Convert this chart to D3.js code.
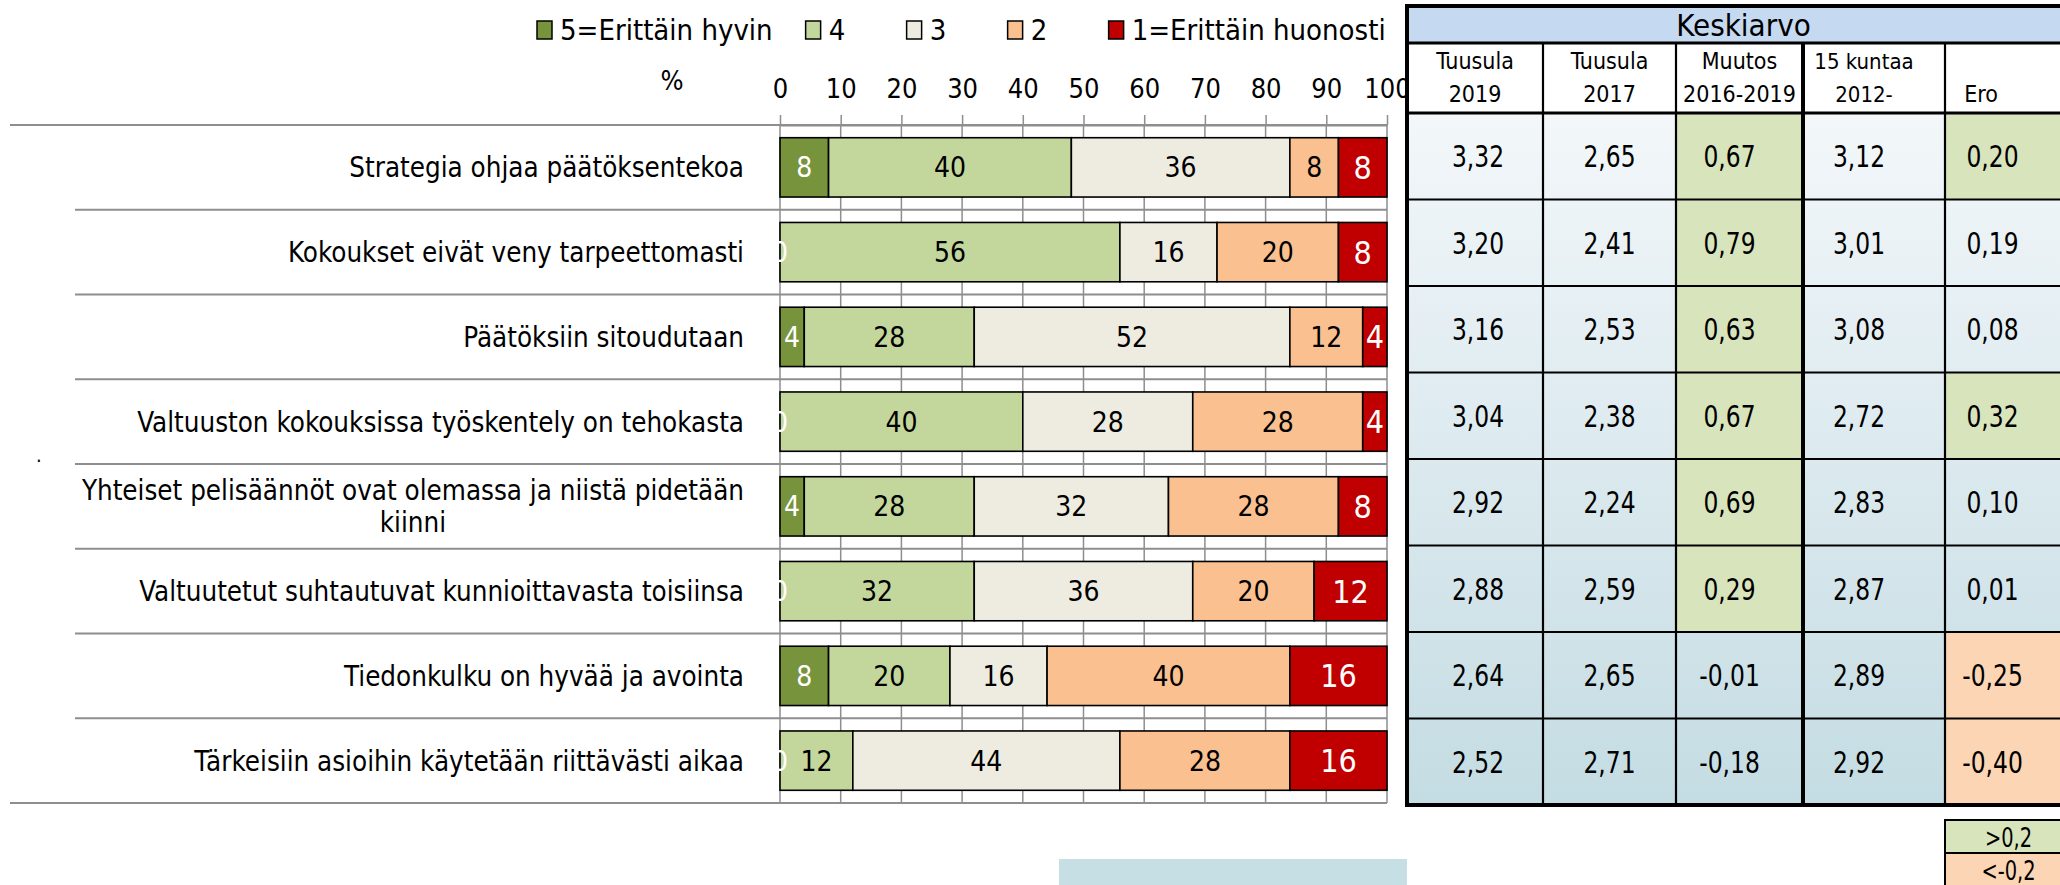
<!DOCTYPE html>
<html>
<head>
<meta charset="utf-8">
<script src="https://cdn.jsdelivr.net/npm/d3@7"></script>
<style>
	body { margin: 0; background: #fff; }
	svg text { font-family: "Liberation Sans Narrow", "DejaVu Sans Condensed", "Roboto Condensed", Roboto, sans-serif; font-stretch: condensed; }
</style>
</head>
<body>
<svg id="chart" width="2060" height="885"></svg>
<script>
// survey statements (rows, top to bottom)
var categories = [
	'Strategia ohjaa päätöksentekoa',
	'Kokoukset eivät veny tarpeettomasti',
	'Päätöksiin sitoudutaan',
	'Valtuuston kokouksissa työskentely on tehokasta',
	'Yhteiset pelisäännöt ovat olemassa ja niistä pidetään kiinni',
	'Valtuutetut suhtautuvat kunnioittavasta toisiinsa',
	'Tiedonkulku on hyvää ja avointa',
	'Tärkeisiin asioihin käytetään riittävästi aikaa'
];

// answer shares, %
var v5 = [8, 0, 4, 0, 4, 0, 8, 0];
var v4 = [40, 56, 28, 40, 28, 32, 20, 12];
var v3 = [36, 16, 52, 28, 32, 36, 16, 44];
var v2 = [8, 20, 12, 28, 28, 20, 40, 28];
var v1 = [8, 8, 4, 4, 8, 12, 16, 16];

var seriesKeys = ['5', '4', '3', '2', '1'];
var legendLabels = ['5=Erittäin hyvin', '4', '3', '2', '1=Erittäin huonosti'];
var seriesColors = ['#77933C', '#C3D69B', '#EEECE1', '#FAC090', '#C00000'];
var xTicks = [0, 10, 20, 30, 40, 50, 60, 70, 80, 90, 100];

// mean table
var tableTitle = 'Keskiarvo';
var colHeads = [['Tuusula', '2019'], ['Tuusula', '2017'], ['Muutos', '2016-2019'], ['15 kuntaa', '2012-'], ['', 'Ero']];
var tuusula2019 = [3.32, 3.20, 3.16, 3.04, 2.92, 2.88, 2.64, 2.52];
var tuusula2017 = [2.65, 2.41, 2.53, 2.38, 2.24, 2.59, 2.65, 2.71];
var muutos = [0.67, 0.79, 0.63, 0.67, 0.69, 0.29, -0.01, -0.18];
var kunnat15 = [3.12, 3.01, 3.08, 2.72, 2.83, 2.87, 2.89, 2.92];
var ero = [0.20, 0.19, 0.08, 0.32, 0.10, 0.01, -0.25, -0.40];
var diffLegend = ['>0,2', '<-0,2'];

var svg = d3.select('#chart');
svg.append('rect').attr('width', 2060).attr('height', 885).attr('fill', '#fff');

var gridCol = '#8E8E8E';
var fmt = d3.formatLocale({decimal: ',', thousands: ' ', grouping: [3], currency: ['', ''], minus: '-'}).format('.2f');

// ---------- bar chart ----------
var rows = categories.map((c, i) => ({cat: c, '5': v5[i], '4': v4[i], '3': v3[i], '2': v2[i], '1': v1[i]}));
var stacked = d3.stack().keys(seriesKeys)(rows);

var x = d3.scaleLinear().domain([0, 100]).range([780, 1387]);
var y = d3.scaleBand().domain(categories).range([125, 803]).paddingInner(0.3).paddingOuter(0.15);
var step = y.step();
var color = d3.scaleOrdinal().domain(seriesKeys).range(seriesColors);

// grid
svg.append('g').selectAll('line').data(xTicks).enter().append('line')
	.attr('x1', d => x(d)).attr('x2', d => x(d))
	.attr('y1', 125).attr('y2', 803)
	.attr('stroke', gridCol).attr('stroke-width', 1.5);

var bounds = d3.range(categories.length + 1);
svg.append('g').selectAll('line').data(bounds).enter().append('line')
	.attr('x1', d => (d == 0 || d == categories.length) ? 10 : 75)
	.attr('x2', x(100))
	.attr('y1', d => 125 + d * step).attr('y2', d => 125 + d * step)
	.attr('stroke', gridCol).attr('stroke-width', 2);

// axis on top
var axis = svg.append('g').attr('transform', 'translate(0,125)')
	.call(d3.axisTop(x).tickValues(xTicks).tickSize(10).tickSizeOuter(0).tickPadding(17));
axis.select('.domain').attr('stroke', gridCol).attr('stroke-width', 2);
axis.selectAll('.tick line').attr('stroke', gridCol).attr('stroke-width', 1.5);
axis.selectAll('.tick text').attr('font-size', 27).attr('fill', '#000')
	.style('font-family', '"Liberation Sans Narrow", "DejaVu Sans Condensed", sans-serif');

svg.append('text').attr('x', 672).attr('y', 90).attr('text-anchor', 'middle')
	.attr('font-size', 27).text('%');

// bars
var layers = svg.append('g').selectAll('g').data(stacked).enter().append('g')
	.attr('fill', d => color(d.key));

layers.selectAll('rect').data(d => d).enter().append('rect')
	.attr('x', d => x(d[0]))
	.attr('width', d => x(d[1]) - x(d[0]))
	.attr('y', d => y(d.data.cat))
	.attr('height', y.bandwidth())
	.attr('stroke', '#000').attr('stroke-width', 1.6);

// segment labels drawn after every bar so zero-width labels peek out
var labelData = [];
stacked.forEach(s => s.forEach(p => labelData.push({p: p, key: s.key})));
svg.append('g').selectAll('text').data(labelData).enter().append('text')
	.attr('x', d => (x(d.p[0]) + x(d.p[1])) / 2)
	.attr('y', d => y(d.p.data.cat) + y.bandwidth() / 2)
	.attr('dy', '0.36em')
	.attr('text-anchor', 'middle')
	.attr('font-size', d => d.key == '1' ? 32 : 28)
	.attr('fill', d => (d.key == '5' || d.key == '1') ? '#fff' : '#000')
	.text(d => d.p[1] - d.p[0]);

// category labels (wrapped, block centred, right edge at labelRight)
var labelRight = 744, labelMax = 690, labelSize = 27.5;
categories.forEach(function(c) {
	var cy = y(c) + y.bandwidth() / 2;
	var t = svg.append('text').attr('font-size', labelSize).attr('text-anchor', 'end')
		.attr('x', labelRight).attr('y', cy).attr('dy', '0.36em').text(c);
	if (t.node().getComputedTextLength() > labelMax) {
		var words = c.split(' '), line1 = [], rest = [];
		words.forEach(function(w) {
			if (rest.length == 0) {
				t.text(line1.concat([w]).join(' '));
				if (t.node().getComputedTextLength() > labelMax) rest.push(w); else line1.push(w);
			} else rest.push(w);
		});
		t.text(line1.join(' '));
		var w1 = t.node().getComputedTextLength();
		t.attr('text-anchor', 'middle').attr('x', labelRight - w1 / 2).attr('y', cy - 16);
		svg.append('text').attr('font-size', labelSize).attr('text-anchor', 'middle')
			.attr('x', labelRight - w1 / 2).attr('y', cy + 16).attr('dy', '0.36em').text(rest.join(' '));
	}
});
svg.append('text').attr('x', 36).attr('y', 462).attr('font-size', 20).text('.');

// legend
var legend = svg.append('g').attr('transform', 'translate(537,30)');
var lx = 0;
legendLabels.forEach(function(l, i) {
	var g = legend.append('g').attr('transform', 'translate(' + lx + ',0)');
	g.append('rect').attr('x', 0).attr('y', -9).attr('width', 15).attr('height', 18)
		.attr('fill', seriesColors[i]).attr('stroke', '#000').attr('stroke-width', 1.5);
	var t = g.append('text').attr('x', 23).attr('y', 0).attr('dy', '0.36em')
		.attr('font-size', 29).text(l);
	lx += Math.max(23 + t.node().getComputedTextLength() + 33, 101);
});

// ---------- mean table ----------
var colEdges = [1407, 1543, 1676, 1803, 1945, 2080];
var colShift = [3, 0, -10, -15, -20];
var tTop = 6, tMid = 43, tHead = 113, tBottom = 805;
var ty = d3.scaleBand().domain(categories).range([tHead, tBottom]);
var tableCols = [tuusula2019, tuusula2017, muutos, kunnat15, ero];

var defs = svg.append('defs');
var grad = defs.append('linearGradient').attr('id', 'tblGrad')
	.attr('gradientUnits', 'userSpaceOnUse')
	.attr('x1', 0).attr('x2', 0).attr('y1', tHead).attr('y2', tBottom);
grad.append('stop').attr('offset', 0).attr('stop-color', '#F3F7FA');
grad.append('stop').attr('offset', 1).attr('stop-color', '#C4DCE3');

function cellFill(ci, v) {
	if (ci == 2 || ci == 4) {
		if (v >= 0.2) return '#D8E4BC';
		if (v <= -0.2) return '#FCD5B4';
	}
	return 'url(#tblGrad)';
}

svg.append('rect').attr('x', colEdges[0]).attr('y', tTop)
	.attr('width', colEdges[5] - colEdges[0]).attr('height', tMid - tTop)
	.attr('fill', '#C5D9F1');
svg.append('rect').attr('x', colEdges[0]).attr('y', tMid)
	.attr('width', colEdges[5] - colEdges[0]).attr('height', tHead - tMid)
	.attr('fill', '#fff');

var tcells = svg.append('g');
tableCols.forEach(function(vals, ci) {
	var x0 = colEdges[ci], x1 = colEdges[ci + 1];
	var cx = (x0 + x1) / 2 + colShift[ci];
	tcells.selectAll(null).data(vals).enter().append('rect')
		.attr('x', x0).attr('width', x1 - x0)
		.attr('y', (d, i) => ty(categories[i])).attr('height', ty.bandwidth())
		.attr('fill', d => cellFill(ci, d));
	tcells.selectAll(null).data(vals).enter().append('text')
		.attr('transform', (d, i) => 'translate(' + cx + ',' + (ty(categories[i]) + ty.bandwidth() / 2) + ') scale(0.84,1)')
		.attr('dy', '0.36em').attr('text-anchor', 'middle')
		.attr('font-size', 31).text(d => fmt(d));
});

// header texts
svg.append('text').attr('x', (colEdges[0] + colEdges[5]) / 2).attr('y', 25).attr('dy', '0.36em')
	.attr('text-anchor', 'middle').attr('font-size', 31).text(tableTitle);
colHeads.forEach(function(h, ci) {
	var cx = (colEdges[ci] + colEdges[ci + 1]) / 2 + (ci == 3 ? -10 : 0);
	var fs = ci == 3 ? 22 : 23;
	svg.append('text').attr('x', cx).attr('y', 61).attr('dy', '0.36em')
		.attr('text-anchor', 'middle').attr('font-size', fs).text(h[0]);
	svg.append('text').attr('x', h[0] == '' ? colEdges[ci] + 36 : cx).attr('y', 94).attr('dy', '0.36em')
		.attr('text-anchor', 'middle').attr('font-size', h[0] == '' ? 23 : fs).text(h[1]);
});

// table rules
var rules = svg.append('g').attr('stroke', '#000');
ty.domain().forEach(function(c, i) {
	if (i > 0) rules.append('line').attr('x1', colEdges[0]).attr('x2', colEdges[5])
		.attr('y1', ty(c)).attr('y2', ty(c)).attr('stroke-width', 2);
});
colEdges.slice(1, 5).forEach(function(e, i) {
	rules.append('line').attr('x1', e).attr('x2', e).attr('y1', tMid).attr('y2', tBottom)
		.attr('stroke-width', i == 2 ? 4 : 2.2);
});
rules.append('line').attr('x1', colEdges[0]).attr('x2', colEdges[5]).attr('y1', tMid).attr('y2', tMid).attr('stroke-width', 3);
rules.append('line').attr('x1', colEdges[0]).attr('x2', colEdges[5]).attr('y1', tHead).attr('y2', tHead).attr('stroke-width', 3);
rules.append('rect').attr('x', colEdges[0]).attr('y', tTop)
	.attr('width', colEdges[5] - colEdges[0]).attr('height', tBottom - tTop)
	.attr('fill', 'none').attr('stroke-width', 4);

// colour key under the table
var key = svg.append('g');
diffLegend.forEach(function(l, i) {
	var ky = 820 + i * 33;
	key.append('rect').attr('x', colEdges[4]).attr('y', ky).attr('width', colEdges[5] - colEdges[4]).attr('height', 33)
		.attr('fill', i == 0 ? '#D8E4BC' : '#FCD5B4').attr('stroke', '#000').attr('stroke-width', 2);
	key.append('text').attr('transform', 'translate(' + ((colEdges[4] + colEdges[5]) / 2 - 4) + ',' + (ky + 17) + ') scale(0.8,1)')
		.attr('dy', '0.36em').attr('text-anchor', 'middle').attr('font-size', 27).text(l);
});

svg.append('rect').attr('x', 1059).attr('y', 859).attr('width', 348).attr('height', 30).attr('fill', '#C6DFE5');
</script>
</body>
</html>
